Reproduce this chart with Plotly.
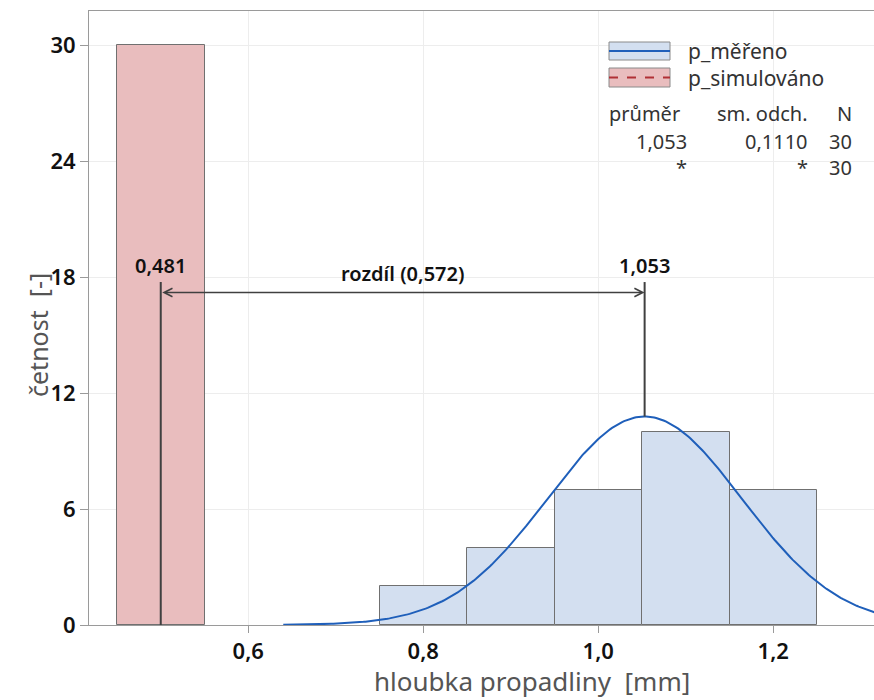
import numpy as np
import plotly.graph_objects as go

# histogram bins (bin centres, counts)
sim_centers = [0.5]
sim_counts = [30]
meas_centers = [0.8, 0.9, 1.0, 1.1, 1.2]
meas_counts = [2, 4, 7, 10, 7]
bin_width = 0.1

# statistics shown in the legend table
meas_mean = 1.053
meas_sd = 0.1110
meas_n = 30
sim_n = 30
sim_mean_label = "0,481"
sim_line_x = 0.5
diff_label = "rozdíl (0,572)"

x_ticks = [0.6, 0.8, 1.0, 1.2]
y_ticks = [0, 6, 12, 18, 24, 30]

FONT = "Noto Sans"
W, H = 874, 700
ML, MR, MT, MB = 89, 0, 11, 75
X0, X1 = 0.418, 0.418 + (W - ML - MR) / 875
Y0, Y1 = 0, 31.76


def px(xp, yp):
    # screen pixel -> paper coords
    return (xp - ML) / (W - ML - MR), (H - MB - yp) / (H - MB - MT)


fig = go.Figure()

fig.add_trace(go.Bar(x=sim_centers, y=sim_counts, width=bin_width,
                     marker=dict(color="#E9BDBE", line=dict(color="#707070", width=1)),
                     showlegend=False))
fig.add_trace(go.Bar(x=meas_centers, y=meas_counts, width=bin_width,
                     marker=dict(color="#D3DFF0", line=dict(color="#707070", width=1)),
                     showlegend=False))

# fitted normal curve for the measured data
xs = np.linspace(0.64, X1 + 0.01, 300)
scale = meas_n * bin_width / (meas_sd * np.sqrt(2 * np.pi))
ys = scale * np.exp(-0.5 * ((xs - meas_mean) / meas_sd) ** 2)
fig.add_trace(go.Scatter(x=xs, y=ys, mode="lines", line=dict(color="#1F5FBA", width=2),
                         showlegend=False))

peak = scale
top = 17.74
arrow_y = 17.2
line_col = "#404040"
lab_font = dict(family=FONT, size=20, color="#111", weight=600)

shapes = [
    dict(type="line", xref="x", yref="y", x0=sim_line_x, x1=sim_line_x, y0=0, y1=top,
         line=dict(color=line_col, width=2)),
    dict(type="line", xref="x", yref="y", x0=meas_mean, x1=meas_mean, y0=peak, y1=top,
         line=dict(color=line_col, width=2)),
]

annotations = [
    dict(x=meas_mean, y=arrow_y, ax=sim_line_x, ay=arrow_y, xref="x", yref="y",
         axref="x", ayref="y", text="", showarrow=True, arrowhead=5, startarrowhead=5,
         arrowside="end+start", arrowsize=1.1, arrowwidth=1.5, arrowcolor=line_col,
         standoff=0, startstandoff=0),
    dict(x=sim_line_x, y=top, xref="x", yref="y", text=sim_mean_label, showarrow=False,
         yanchor="bottom", yshift=1, font=lab_font),
    dict(x=meas_mean, y=top, xref="x", yref="y", text=f"{meas_mean:.3f}".replace(".", ","),
         showarrow=False, yanchor="bottom", yshift=1, font=lab_font),
    dict(x=(sim_line_x + meas_mean) / 2, y=arrow_y, xref="x", yref="y", text=diff_label,
         showarrow=False, yanchor="bottom", yshift=3, font=lab_font),
]

# manual legend
leg = [("p_měřeno", "#D3DFF0", "#1F5FBA", "solid", 42, 60),
       ("p_simulováno", "#E9BDBE", "#B03035", "dash", 68, 87)]
for name, fill, lc, dash, ya, yb in leg:
    xa, ytop = px(609, ya)
    xb, ybot = px(670, yb)
    shapes.append(dict(type="rect", xref="paper", yref="paper", x0=xa, x1=xb, y0=ybot, y1=ytop,
                       fillcolor=fill, line=dict(color="#8a8a8a", width=1)))
    shapes.append(dict(type="line", xref="paper", yref="paper", x0=xa, x1=xb,
                       y0=(ybot + ytop) / 2, y1=(ybot + ytop) / 2,
                       line=dict(color=lc, width=2, dash=dash)))
    tx, ty = px(686, (ya + yb) / 2)
    annotations.append(dict(x=tx, y=ty, xref="paper", yref="paper", text=name, showarrow=False,
                            xanchor="left", yanchor="middle",
                            font=dict(family=FONT, size=21, color="#333")))

table = [
    [("průměr", 607, "left"), ("sm. odch.", 810, "right"), ("N", 854, "right")],
    [(f"{meas_mean:.3f}".replace(".", ","), 689, "right"),
     (f"{meas_sd:.4f}".replace(".", ","), 810, "right"), (str(meas_n), 854, "right")],
    [("*", 689, "right"), ("*", 810, "right"), (str(sim_n), 854, "right")],
]
for row, yp in zip(table, [114, 141, 167]):
    for txt, xp, anc in row:
        tx, ty = px(xp, yp)
        annotations.append(dict(x=tx, y=ty, xref="paper", yref="paper", text=txt, showarrow=False,
                                xanchor=anc, yanchor="middle",
                                font=dict(family=FONT, size=20, color="#333")))

# axis titles
tx, ty = px(532, 681)
annotations.append(dict(x=tx, y=ty, xref="paper", yref="paper", text="hloubka propadliny  [mm]",
                        showarrow=False, xanchor="center", yanchor="middle",
                        font=dict(family=FONT, size=26, color="#555")))
tx, ty = px(38, 335)
annotations.append(dict(x=tx, y=ty, xref="paper", yref="paper", text="četnost  [-]", textangle=-90,
                        showarrow=False, xanchor="center", yanchor="middle",
                        font=dict(family=FONT, size=25, color="#555")))

tick_font = dict(family=FONT, size=22, color="#111", weight=600)
fig.update_layout(
    width=W, height=H, margin=dict(l=ML, r=MR, t=MT, b=MB),
    plot_bgcolor="white", paper_bgcolor="white", separators=", ",
    barmode="overlay", bargap=0,
    font=dict(family=FONT),
    shapes=shapes, annotations=annotations,
    xaxis=dict(range=[X0, X1], tickvals=x_ticks, ticktext=[f"{v:.1f}".replace(".", ",") for v in x_ticks],
               showgrid=True, gridcolor="#EDEDED", gridwidth=1, zeroline=False,
               showline=True, linecolor="#9a9a9a", linewidth=1, mirror=True,
               ticks="outside", ticklen=7, tickcolor="#9a9a9a", tickfont=tick_font),
    yaxis=dict(range=[Y0, Y1], tickvals=y_ticks, showgrid=True, gridcolor="#EDEDED", gridwidth=1,
               zeroline=False, showline=True, linecolor="#9a9a9a", linewidth=1,
               ticks="outside", ticklen=8, tickcolor="#9a9a9a", tickfont=tick_font),
)

# drop the page's default body margin so the figure fills the window exactly
fig.write_html("out.html", config={"displayModeBar": False},
               post_script="document.body.style.margin='0';document.body.style.overflow='hidden';")
